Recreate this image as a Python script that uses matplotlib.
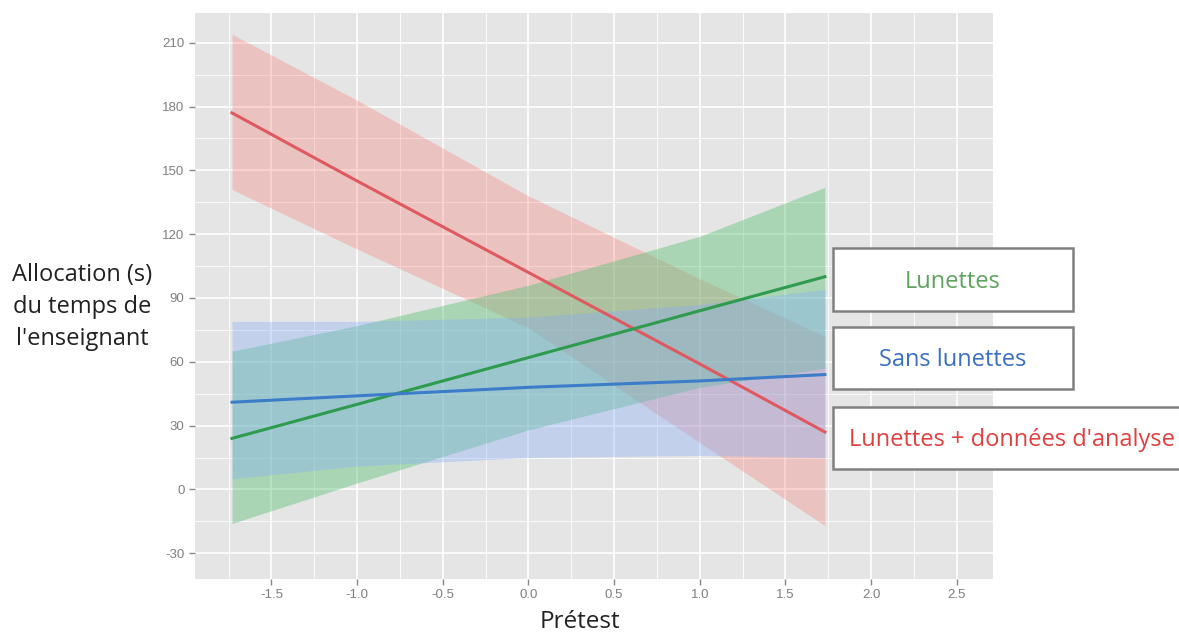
import matplotlib.pyplot as plt
from matplotlib.ticker import MultipleLocator
from matplotlib.patches import Rectangle

plt.rcParams["axes.unicode_minus"] = False

# prétest values where the fitted lines and bands were read
pretest = [-1.73, -1.0, 0.0, 1.0, 1.73]

# Lunettes + données d'analyse
red_fit = [177, 145, 102, 59, 27]
red_hi = [214, 183, 138, 99, 72]
red_lo = [141, 113, 76, 22, -17]

# Lunettes
green_fit = [24, 40, 62, 84, 100]
green_hi = [65, 77, 96, 119, 142]
green_lo = [-16, 3, 28, 48, 57]

# Sans lunettes
blue_fit = [41, 44, 48, 51, 54]
blue_hi = [79, 79, 81, 87, 94]
blue_lo = [5, 11, 15, 16, 15]

labels = ["Lunettes", "Sans lunettes", "Lunettes + données d'analyse"]
xticks = [-1.5, -1.0, -0.5, 0.0, 0.5, 1.0, 1.5, 2.0, 2.5]
yticks = [-30, 0, 30, 60, 90, 120, 150, 180, 210]

fig = plt.figure(figsize=(11.79, 6.32), dpi=100)
ax = fig.add_axes([0.1654, 0.0839, 0.6768, 0.8956])
ax.set_facecolor("#e5e5e5")

ax.fill_between(pretest, red_lo, red_hi, color="#f8766d", alpha=0.3, lw=0)
ax.fill_between(pretest, green_lo, green_hi, color="#50be6e", alpha=0.4, lw=0)
ax.fill_between(pretest, blue_lo, blue_hi, color="#82aafa", alpha=0.35, lw=0)

ax.plot(pretest, red_fit, color="#df5a60", lw=2.2)
ax.plot(pretest, green_fit, color="#2e9b4e", lw=2.2)
ax.plot(pretest, blue_fit, color="#3d7cc9", lw=2.2)

ax.set_xlim(-1.946, 2.711)
ax.set_ylim(-42.1, 224.0)
ax.set_xticks(xticks)
ax.set_yticks(yticks)
ax.set_xticklabels([f"{t:.1f}" for t in xticks])
ax.xaxis.set_minor_locator(MultipleLocator(0.25))
ax.yaxis.set_minor_locator(MultipleLocator(15))
ax.grid(which="major", color="white", lw=1.2)
ax.grid(which="minor", color="white", lw=0.6)
ax.set_axisbelow(True)
for s in ax.spines.values():
    s.set_visible(False)
ax.tick_params(which="major", length=4, width=1, color="#888888",
               labelcolor="#7f7f7f", labelsize=9.5)
ax.tick_params(which="minor", length=0)
for lbl in ax.get_xticklabels() + ax.get_yticklabels():
    lbl.set_family("Liberation Sans")

fig.text(0.0696, 0.514, "Allocation (s)\ndu temps de\nl'enseignant", ha="center",
         va="center", fontsize=17, color="#222222", linespacing=1.45,
         family="Open Sans")
fig.text(0.492, 0.016, "Prétest", ha="center", va="center", fontsize=17.5,
         color="#222222", family="Open Sans")

# label boxes on the right
boxes = [(833, 248, 240, 63, "#5fa35f"),
         (833, 327, 240, 62, "#3a6fc4"),
         (833, 407, 350, 62, "#e04040")]
for (bx, by, bw, bh, c), lab in zip(boxes, labels):
    fig.patches.append(Rectangle((bx / 1179, 1 - (by + bh) / 632), bw / 1179, bh / 632,
                                 transform=fig.transFigure, facecolor="white",
                                 edgecolor="#808080", lw=1.8, zorder=5))
    cx = (bx + 120) / 1179 if bw < 300 else 1012 / 1179
    fig.text(cx, 1 - (by + bh / 2 + 2) / 632, lab, ha="center", va="center",
             fontsize=17, color=c, family="Open Sans", zorder=6)

fig.savefig("out.png", dpi=100)
